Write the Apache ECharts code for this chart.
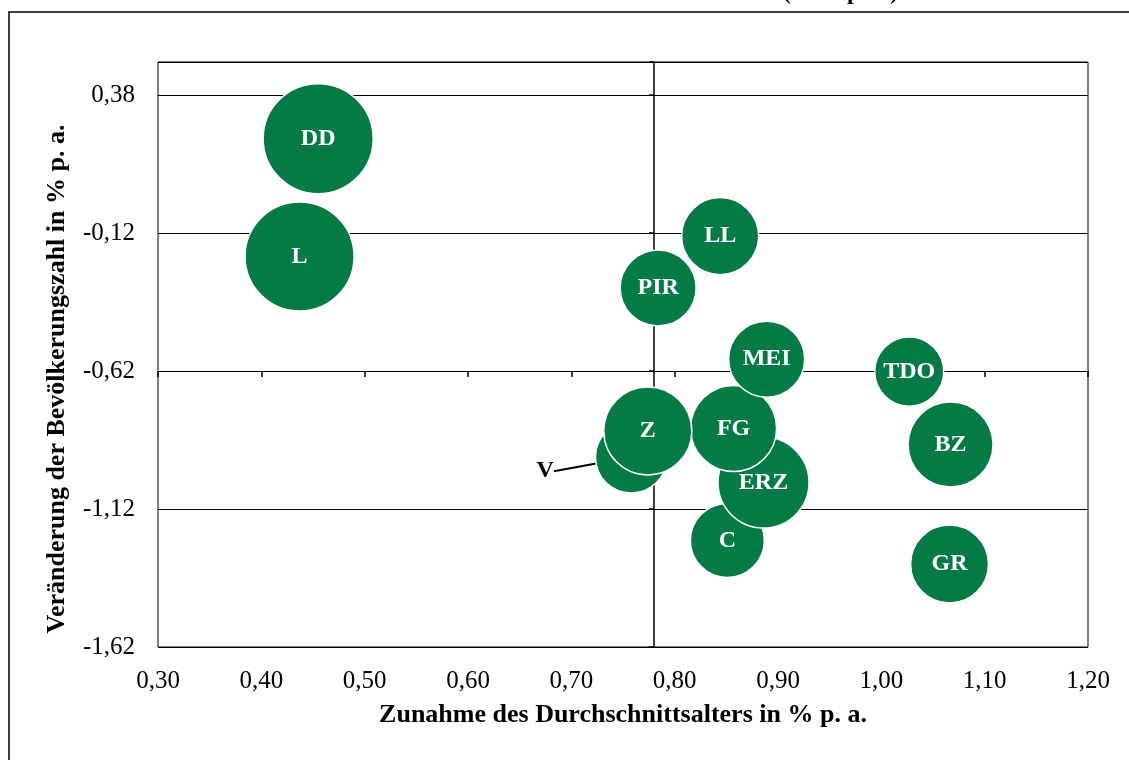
<!DOCTYPE html>
<html>
<head>
<meta charset="utf-8">
<title>Bubble chart</title>
<script src="https://cdn.jsdelivr.net/npm/echarts@6/dist/echarts.min.js"></script>
<style>
  html, body { margin: 0; padding: 0; background: #fff; }
  #chart { width: 1129px; height: 760px; }
</style>
</head>
<body>
<div id="chart"></div>
<script>
// Kreise / kreisfreie Städte
const names = ['DD', 'L', 'LL', 'PIR', 'C', 'ERZ', 'FG', 'MEI', 'TDO', 'BZ', 'GR', 'V', 'Z']
// Zunahme des Durchschnittsalters in % p. a.
const ageGrowth = [0.455, 0.437, 0.844, 0.784, 0.851, 0.886, 0.857, 0.889, 1.027, 1.067, 1.066, 0.758, 0.774]
// Veränderung der Bevölkerungszahl in % p. a.
const popChange = [0.222, -0.205, -0.131, -0.319, -1.234, -1.024, -0.828, -0.577, -0.622, -0.886, -1.319, -0.932, -0.837]
// Einwohner (Tsd.) -> Blasengröße
const population = [520, 511, 255, 248, 235, 356, 318, 248, 205, 310, 261, 220, 333]

const xTicks = { min: 0.30, max: 1.20, interval: 0.10 }
const yTicks = { min: -1.62, max: 0.50, interval: 0.50 }
const crossX = 0.78
const crossY = -0.62

const font = 'Liberation Serif'
const green = '#047b44'

let grid = { left: 158, right: 41, top: 62, bottom: 113 }
let gridW = 1129 - grid.left - grid.right
let gridH = 760 - grid.top - grid.bottom

let fmt = v => v.toFixed(2).replace('.', ',')

let data = names.map((n, i) => {
  let item = { name: n, value: [ageGrowth[i], popChange[i], population[i]] }
  if (n === 'V') {
    item.label = { color: '#000' }
    item.labelLine = { show: true }
  }
  return item
})

let chart = echarts.init(document.getElementById('chart'))
let option = {
  animation: false,
  title: {
    text: '(in % p. a.)',
    left: 778,
    top: -24,
    textStyle: { fontFamily: font, fontWeight: 'bold', fontSize: 24, color: '#000' }
  },
  graphic: [{
    type: 'rect',
    shape: { x: 9, y: 12, width: 1200, height: 800 },
    style: { fill: 'none', stroke: '#000', lineWidth: 1.5 },
    silent: true
  }],
  grid: {
    left: grid.left,
    right: grid.right,
    top: grid.top,
    bottom: grid.bottom,
    show: true,
    borderColor: '#000',
    borderWidth: 1
  },
  xAxis: [{
    type: 'value',
    position: 'bottom',
    min: xTicks.min,
    max: xTicks.max,
    interval: xTicks.interval,
    name: 'Zunahme des Durchschnittsalters in % p. a.',
    nameLocation: 'middle',
    nameGap: 55,
    nameTextStyle: { fontFamily: font, fontWeight: 'bold', fontSize: 26, color: '#000' },
    axisLine: { show: false, onZero: false },
    axisTick: { show: false },
    splitLine: { show: false },
    axisLabel: {
      fontFamily: font,
      fontSize: 25,
      color: '#000',
      margin: 22,
      formatter: fmt
    }
  }, {
    type: 'value',
    position: 'bottom',
    min: xTicks.min,
    max: xTicks.max,
    interval: xTicks.interval,
    offset: -gridH * (crossY - yTicks.min) / (yTicks.max - yTicks.min),
    axisLine: { show: true, onZero: false, lineStyle: { color: '#000', width: 1 } },
    axisTick: { show: true, length: 6, lineStyle: { color: '#000', width: 1.5 } },
    axisLabel: { show: false },
    splitLine: { show: false }
  }],
  yAxis: [{
    type: 'value',
    position: 'left',
    min: yTicks.min,
    max: yTicks.max,
    interval: yTicks.interval,
    name: 'Veränderung der Bevölkerungszahl in % p. a.',
    nameLocation: 'middle',
    nameGap: 88,
    nameTextStyle: {
      fontFamily: font, fontWeight: 'bold', fontSize: 26, color: '#000',
      padding: [0, 49, 0, 0]
    },
    axisLine: { show: false, onZero: false },
    axisTick: { show: false },
    splitLine: { show: true, lineStyle: { color: '#000', width: 1 } },
    axisLabel: {
      fontFamily: font,
      fontSize: 25,
      color: '#000',
      margin: 23,
      showMaxLabel: false,
      formatter: fmt
    }
  }, {
    type: 'value',
    position: 'left',
    min: yTicks.min,
    max: yTicks.max,
    interval: yTicks.interval,
    offset: -gridW * (crossX - xTicks.min) / (xTicks.max - xTicks.min),
    axisLine: { show: true, onZero: false, lineStyle: { color: '#000', width: 1.5 } },
    axisTick: { show: true, length: 5, lineStyle: { color: '#000', width: 1.5 } },
    axisLabel: { show: false },
    splitLine: { show: false }
  }],
  series: [{
    type: 'scatter',
    xAxisIndex: 0,
    yAxisIndex: 0,
    data: data,
    symbolSize (val) {
      return 110 * Math.sqrt(val[2] / 520)
    },
    itemStyle: {
      color: green,
      opacity: 1,
      borderColor: '#fff',
      borderWidth: 1.5
    },
    label: {
      show: true,
      position: 'inside',
      formatter: '{b}',
      fontFamily: font,
      fontWeight: 'bold',
      fontSize: 24,
      color: '#fff'
    },
    labelLine: {
      show: false,
      lineStyle: { color: '#000', width: 2 }
    },
    labelLayout (params) {
      if (names[params.dataIndex] === 'V') {
        return { dx: -86, dy: 14 }
      }
    },
    emphasis: { disabled: true }
  }]
}
chart.setOption(option)
</script>
</body>
</html>
